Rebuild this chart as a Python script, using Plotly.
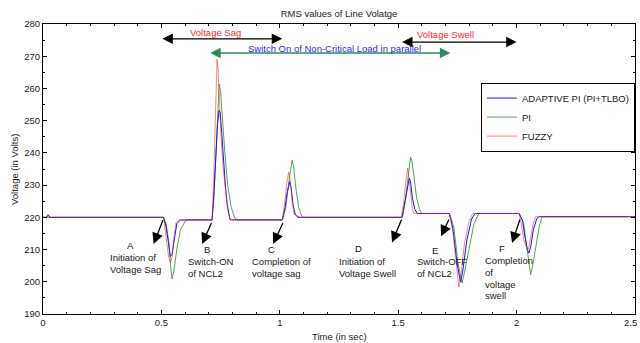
import plotly.graph_objects as go

# ---------------- data ----------------
t_adaptive = [0, 0.015, 0.022, 0.03, 0.509, 0.52, 0.53, 0.538, 0.545, 0.555, 0.565, 0.58,
              0.714, 0.722, 0.73, 0.737, 0.744, 0.748, 0.755, 0.762, 0.77, 0.778, 0.79,
              1.01, 1.022, 1.032, 1.042, 1.048, 1.056, 1.065, 1.075,
              1.516, 1.526, 1.537, 1.547, 1.552, 1.56, 1.57, 1.58,
              1.716, 1.73, 1.748, 1.763, 1.772, 1.79, 1.81, 1.825,
              2.01, 2.025, 2.035, 2.045, 2.052, 2.06, 2.07, 2.085, 2.093, 2.5]
v_adaptive = [220, 220, 220.8, 220, 220, 217, 212, 207.8, 208.5, 214, 218, 219.2,
              219.2, 228, 240, 249, 253.2, 252.5, 246, 238, 230, 224, 219.2,
              219.2, 223, 228, 231.1, 229, 224, 221, 220,
              220, 224, 229, 232.2, 231, 226, 222.5, 221.2,
              221.2, 217, 206, 199.9, 203, 213, 219.5, 221.2,
              221.2, 219, 214, 210, 208.9, 211, 216, 219.5, 220.2, 220.2]

t_pi = [0, 0.509, 0.52, 0.532, 0.54, 0.545, 0.552, 0.565, 0.58, 0.60, 0.614,
        0.714, 0.722, 0.73, 0.738, 0.744, 0.75, 0.758, 0.768, 0.78, 0.795, 0.81, 0.82,
        1.012, 1.025, 1.038, 1.048, 1.052, 1.058, 1.068, 1.08, 1.092, 1.10,
        1.518, 1.53, 1.542, 1.552, 1.558, 1.567, 1.578, 1.59, 1.60,
        1.716, 1.735, 1.752, 1.77, 1.78, 1.80, 1.82, 1.84,
        2.012, 2.03, 2.04, 2.05, 2.059, 2.068, 2.08, 2.095, 2.108, 2.5]
v_pi = [220, 220, 218, 212, 204, 200.9, 203, 210, 216, 218.8, 219.2,
        219.2, 226, 240, 255, 261.4, 259, 250, 240, 230, 223, 219.8, 219.2,
        219.2, 223, 231, 236.5, 237.7, 236, 229, 223, 220.5, 220,
        220, 225, 233, 238.7, 237.5, 232, 226, 222.5, 221.2,
        221.2, 217, 206, 199.6, 203, 211, 218, 221.2,
        221.2, 218, 212, 206, 202.2, 205, 211, 217, 220.2, 220.2]

t_fuzzy = [0, 0.015, 0.02, 0.028, 0.509, 0.52, 0.53, 0.538, 0.545, 0.553, 0.562, 0.575,
           0.714, 0.72, 0.727, 0.732, 0.735, 0.739, 0.745, 0.752, 0.76, 0.77, 0.78, 0.79, 0.8,
           1.01, 1.02, 1.03, 1.038, 1.045, 1.052, 1.06, 1.075, 1.085,
           1.513, 1.522, 1.532, 1.54, 1.546, 1.553, 1.56, 1.566,
           1.716, 1.73, 1.745, 1.756, 1.765, 1.78, 1.80, 1.815,
           2.01, 2.02, 2.03, 2.04, 2.05, 2.06, 2.07, 2.08, 2.5]
v_fuzzy = [220, 220, 220.8, 220, 220, 214, 208, 205.9, 207.5, 214, 218.5, 219.2,
           219.2, 230, 250, 264, 269.1, 266, 255, 245, 236, 228, 222, 219.5, 219.2,
           219.2, 224, 231, 234.1, 231, 225, 221, 220.5, 220,
           220, 224, 231, 235.3, 232, 226, 222.5, 221.2,
           221.2, 216, 205, 198.4, 202, 212, 219, 221.2,
           221.2, 218, 213, 211, 210.0, 214, 218, 220.2, 220.2]

x_ticks = [0, 0.5, 1, 1.5, 2, 2.5]
x_tick_labels = ["0", "0.5", "1", "1.5", "2", "2.5"]
y_ticks = [190, 200, 210, 220, 230, 240, 250, 260, 270, 280]
y_tick_labels = [str(v) for v in y_ticks]

# event markers
event_letters = ["A", "B", "C", "D", "E", "F"]
letter_t = [0.369, 0.694, 0.967, 1.332, 1.657, 1.940]
letter_v = [211.2, 210.0, 210.0, 210.3, 209.7, 210.3]
event_lines = [["Initiation of", "Voltage Sag"],
               ["Switch-ON", "of NCL2"],
               ["Completion of", "voltage sag"],
               ["Initiation of", "Voltage Swell"],
               ["Switch-OFF", "of NCL2"],
               ["Completion", "of", "voltage", "swell"]]
lines_t = [0.276, 0.605, 0.876, 1.243, 1.569, 1.856]
lines_v0 = [207.5, 206.2, 206.2, 206.2, 206.2, 206.5]
arrow_tail_t = [0.509, 0.714, 1.016, 1.517, 1.717, 2.016]
arrow_tail_v = [219.6, 218.7, 218.7, 219.8, 219.8, 219.8]
arrow_head_t = [0.467, 0.672, 0.972, 1.474, 1.681, 1.981]
arrow_head_v = [211.7, 211.7, 211.7, 212.2, 214.1, 212.0]

# period arrows at the top
period_labels = ["Voltage Sag", "Switch On of Non-Critical Load in parallel", "Voltage Swell"]
period_start = [0.498, 0.70, 1.51]
period_end = [1.01, 1.72, 2.0]
period_v = [275.4, 271.0, 274.4]
period_label_t = [0.728, 1.233, 1.70]
period_label_v = [277.4, 272.4, 276.6]
period_label_color = ["#ff2a2a", "#2a2aff", "#ff2a2a"]
period_arrow_color = ["black", "seagreen", "black"]

FONT = "Arial, 'Liberation Sans', sans-serif"
TXT = "#1a1a1a"

fig = go.Figure()
fig.add_trace(go.Scatter(x=t_pi, y=v_pi, mode="lines", name="PI", legendrank=2,
                         line=dict(color="rgba(30,150,30,0.8)", width=1)))
fig.add_trace(go.Scatter(x=t_adaptive, y=v_adaptive, mode="lines", name="ADAPTIVE PI (PI+TLBO)",
                         legendrank=1, line=dict(color="rgb(20,20,255)", width=1)))
fig.add_trace(go.Scatter(x=t_fuzzy, y=v_fuzzy, mode="lines", name="FUZZY", legendrank=3,
                         line=dict(color="rgba(255,30,30,0.55)", width=1)))

ann = []
for i, letter in enumerate(event_letters):
    ann.append(dict(x=letter_t[i], y=letter_v[i], xref="x", yref="y", text=letter,
                    showarrow=False, xanchor="center", yanchor="middle",
                    font=dict(family=FONT, size=9.5, color=TXT)))
    for j, line in enumerate(event_lines[i]):
        ann.append(dict(x=lines_t[i], y=lines_v0[i] - j * 3.6, xref="x", yref="y", text=line,
                        showarrow=False, xanchor="left", yanchor="middle",
                        font=dict(family=FONT, size=9.5, color=TXT)))
    ann.append(dict(x=arrow_head_t[i], y=arrow_head_v[i], ax=arrow_tail_t[i], ay=arrow_tail_v[i],
                    xref="x", yref="y", axref="x", ayref="y", text="", showarrow=True,
                    arrowhead=2, arrowsize=1.7, arrowwidth=1.3, arrowcolor="black"))

for i, lab in enumerate(period_labels):
    ann.append(dict(x=period_end[i], y=period_v[i], ax=period_start[i], ay=period_v[i],
                    xref="x", yref="y", axref="x", ayref="y", text="", showarrow=True,
                    arrowhead=2, arrowsize=1.6, arrowwidth=1.3, arrowside="end+start",
                    arrowcolor=period_arrow_color[i]))
    ann.append(dict(x=period_label_t[i], y=period_label_v[i], xref="x", yref="y", text=lab,
                    showarrow=False, xanchor="center", yanchor="middle",
                    font=dict(family=FONT, size=9.5, color=period_label_color[i])))

# axis titles as paper-anchored text
ann.append(dict(x=0.5, y=-0.079, xref="paper", yref="paper", text="Time (in sec)",
                showarrow=False, xanchor="center", yanchor="middle",
                font=dict(family=FONT, size=9.5, color=TXT)))
ann.append(dict(x=-0.049, y=0.5, xref="paper", yref="paper", text="Voltage (in Volts)",
                showarrow=False, xanchor="center", yanchor="middle", textangle=-90,
                font=dict(family=FONT, size=9.5, color=TXT)))
# last x tick label, nudged left so it stays inside the page
ann.append(dict(x=x_ticks[-1], y=-0.0276, xref="x", yref="paper", text=x_tick_labels[-1],
                showarrow=False, xanchor="center", yanchor="middle", xshift=-5,
                font=dict(family=FONT, size=9.5, color=TXT)))

axis_common = dict(showline=True, linecolor="black", linewidth=1, mirror="ticks",
                   ticks="inside", ticklen=4, tickwidth=1, tickcolor="black",
                   showgrid=False, zeroline=False, automargin=False,
                   tickfont=dict(family=FONT, size=9.5, color=TXT))

fig.update_layout(
    width=640, height=343, autosize=False,
    margin=dict(l=43, r=5, t=24, b=29),
    paper_bgcolor="white", plot_bgcolor="white",
    title=dict(text="RMS values of Line Volatge", x=0.5, xref="paper", y=1 - 14 / 343,
               yref="container", yanchor="middle",
               font=dict(family=FONT, size=9.5, color=TXT)),
    xaxis=dict(range=[0, 2.5], tickmode="array", tickvals=x_ticks,
               ticktext=x_tick_labels[:-1] + [""],
               minor=dict(dtick=0.1, tick0=0, ticks="inside", ticklen=2, tickcolor="black", showgrid=False),
               **axis_common),
    yaxis=dict(range=[190, 280], tickmode="array", tickvals=y_ticks, ticktext=y_tick_labels,
               minor=dict(dtick=5, tick0=190, ticks="inside", ticklen=2, tickcolor="black", showgrid=False),
               **axis_common),
    legend=dict(x=1, xanchor="right", y=0.798, yanchor="top", bgcolor="white",
                bordercolor="black", borderwidth=1,
                font=dict(family=FONT, size=9.5, color=TXT)),
    annotations=ann,
)

# remove the browser's default page margin so the 640x343 figure fills the window exactly
fig.write_html("out.html", config={"displayModeBar": False},
               post_script="document.body.style.margin='0px';")
